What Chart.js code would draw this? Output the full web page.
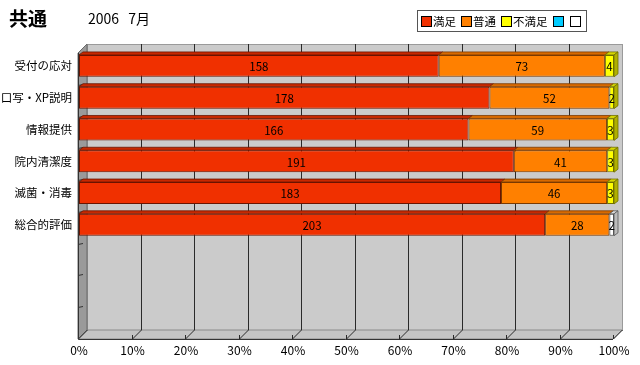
<!DOCTYPE html>
<html>
<head>
<meta charset="utf-8">
<script src="https://cdn.jsdelivr.net/npm/chart.js@4"></script>
<style>
  html, body { margin: 0; padding: 0; background: #ffffff; }
  #wrap { position: relative; width: 640px; height: 365px; font-family: "Noto Sans CJK JP", "Noto Sans", sans-serif; }
  #title { position: absolute; left: 9px; top: 4px; font-size: 19px; font-weight: bold; color: #000; }
  #sub { position: absolute; left: 88px; top: 8px; font-size: 14px; color: #000; word-spacing: 6px; }
  #legend { position: absolute; left: 417px; top: 10px; height: 20px; border: 1px solid #555; background: #fff; display: flex; align-items: center; padding: 0 4px 0 3px; white-space: nowrap; }
  .li { display: flex; align-items: center; margin-right: 5px; font-size: 11.5px; color: #000; white-space: nowrap; flex-shrink: 0; }
  .li:last-child { margin-right: 0; }
  .sw { width: 9px; height: 9px; border: 1px solid #000; margin-right: 1px; flex-shrink: 0; }
  canvas { position: absolute; left: 0; top: 0; }
</style>
</head>
<body>
<div id="wrap">
  <canvas id="c" width="640" height="365"></canvas>
  <div id="title">共通</div>
  <div id="sub">2006 7月</div>
  <div id="legend"></div>
</div>
<script>
// ---- data ----
const categories = ['受付の応対', '口写・XP説明', '情報提供', '院内清潔度', '滅菌・消毒', '総合的評価', '', '', ''];
const seriesNames = ['満足', '普通', '不満足', '', ''];
const satisfied = [158, 178, 166, 191, 183, 203];
const normal = [73, 52, 59, 41, 46, 28];
const dissatisfied = [4, 2, 3, 3, 3, 0];
const cyanSeries = [0, 0, 0, 0, 0, 0];
const whiteSeries = [0, 0, 0, 0, 0, 2];
const xTickValues = [0, 10, 20, 30, 40, 50, 60, 70, 80, 90, 100];

// ---- styles ----
const fills = ['#f03000', '#ff8000', '#ffff00', '#00ccff', '#ffffff'];
const tops = ['#c82800', '#d86a00', '#d8d800', '#00a0cc', '#dddddd'];
const sides = ['#a02000', '#b05500', '#b0b000', '#0080a0', '#bbbbbb'];
const borders = ['#6a1400', '#7a3a00', '#707000', '#005070', '#555555'];

const counts = [satisfied, normal, dissatisfied, cyanSeries, whiteSeries];
const totals = satisfied.map((_, i) => counts.reduce((s, arr) => s + arr[i], 0));

const datasets = counts.map((arr, si) => ({
  label: seriesNames[si],
  data: categories.map((_, i) => (i < arr.length && arr[i] > 0) ? arr[i] / totals[i] * 100 : null),
  rawCounts: arr,
  backgroundColor: fills[si],
  borderColor: borders[si],
  borderWidth: 1,
  borderSkipped: false,
  barPercentage: 0.69,
  categoryPercentage: 1.0
}));

// legend
const lg = document.getElementById('legend');
seriesNames.forEach((n, i) => {
  const d = document.createElement('div'); d.className = 'li';
  const s = document.createElement('div'); s.className = 'sw'; s.style.background = fills[i];
  d.appendChild(s);
  if (n) { const t = document.createElement('span'); t.textContent = n; d.appendChild(t); }
  lg.appendChild(d);
});

const DX = 9, DY = 9;   // wall depth
const BX = 4, BY = 3;   // bar depth

const wallPlugin = {
  id: 'wall3d',
  beforeDatasetsDraw(chart) {
    const ctx = chart.ctx, ca = chart.chartArea, xs = chart.scales.x;
    const fl = ca.left - 1, ft = ca.top + 3, fr = ca.right - 1, fb = ca.bottom + 3;
    ctx.save();
    ctx.fillStyle = '#cbcbcb';
    ctx.fillRect(fl + DX, ft - DY, fr - fl, fb - ft);
    ctx.strokeStyle = '#9a9a9a'; ctx.lineWidth = 1;
    ctx.strokeRect(fl + DX + 0.5, ft - DY + 0.5, fr - fl, fb - ft);
    ctx.beginPath();
    ctx.moveTo(fl, fb); ctx.lineTo(fl + DX, fb - DY); ctx.lineTo(fr + DX, fb - DY); ctx.lineTo(fr, fb); ctx.closePath();
    ctx.fillStyle = '#c4c4c4'; ctx.fill();
    ctx.strokeStyle = '#8a8a8a'; ctx.stroke();
    ctx.beginPath();
    ctx.moveTo(fl, ft); ctx.lineTo(fl + DX, ft - DY); ctx.lineTo(fl + DX, fb - DY); ctx.lineTo(fl, fb); ctx.closePath();
    ctx.fillStyle = '#9a9a9a'; ctx.fill();
    ctx.strokeStyle = '#6a6a6a'; ctx.stroke();
    ctx.strokeStyle = '#2a2a2a'; ctx.lineWidth = 1;
    xTickValues.forEach(v => {
      const x = Math.round(xs.getPixelForValue(v) - 1) + 0.5;
      if (v > 0 && v < 100) {
        ctx.beginPath(); ctx.moveTo(x + DX, ft - DY); ctx.lineTo(x + DX, fb - DY); ctx.stroke();
      }
      ctx.beginPath(); ctx.moveTo(x, fb); ctx.lineTo(x + DX, fb - DY); ctx.stroke();
      ctx.beginPath(); ctx.moveTo(x, fb); ctx.lineTo(x, fb - 4); ctx.stroke();
    });
    ctx.strokeStyle = '#333';
    ctx.beginPath(); ctx.moveTo(fl + 0.5, ft); ctx.lineTo(fl + 0.5, fb + 0.5); ctx.lineTo(fr, fb + 0.5); ctx.stroke();
    const n = categories.length;
    for (let k = 1; k < n; k++) {
      const y = Math.round(ft + k * (fb - ft) / n) + 0.5;
      ctx.beginPath(); ctx.moveTo(fl, y); ctx.lineTo(fl + 5, y - 1); ctx.stroke();
    }
    ctx.restore();
  },
  afterDatasetsDraw(chart) {
    const ctx = chart.ctx;
    ctx.save();
    const n = categories.length;
    const lastSeg = new Array(n).fill(null);
    chart.data.datasets.forEach((ds, di) => {
      const meta = chart.getDatasetMeta(di);
      meta.data.forEach((el, i) => {
        if (ds.data[i] == null) return;
        const x0 = el.base, x1 = el.x, top = el.y - el.height / 2;
        ctx.beginPath();
        ctx.moveTo(x0, top); ctx.lineTo(x0 + BX, top - BY); ctx.lineTo(x1 + BX, top - BY); ctx.lineTo(x1, top); ctx.closePath();
        ctx.fillStyle = tops[di]; ctx.fill();
        ctx.strokeStyle = borders[di]; ctx.lineWidth = 0.8; ctx.stroke();
        lastSeg[i] = { el, di };
      });
    });
    lastSeg.forEach(s => {
      if (!s) return;
      const el = s.el, x1 = el.x, top = el.y - el.height / 2, bot = el.y + el.height / 2;
      ctx.beginPath();
      ctx.moveTo(x1, top); ctx.lineTo(x1 + BX, top - BY); ctx.lineTo(x1 + BX, bot - BY); ctx.lineTo(x1, bot); ctx.closePath();
      ctx.fillStyle = sides[s.di]; ctx.fill();
      ctx.strokeStyle = borders[s.di]; ctx.lineWidth = 0.8; ctx.stroke();
    });
    ctx.fillStyle = '#000';
    ctx.font = '11.5px "Noto Sans CJK JP", sans-serif';
    ctx.textAlign = 'center'; ctx.textBaseline = 'middle';
    chart.data.datasets.forEach((ds, di) => {
      const meta = chart.getDatasetMeta(di);
      meta.data.forEach((el, i) => {
        if (ds.data[i] == null) return;
        ctx.fillText(String(ds.rawCounts[i]), (el.x + el.base) / 2, el.y + 1);
      });
    });
    ctx.restore();
  }
};

new Chart(document.getElementById('c'), {
  type: 'bar',
  data: { labels: categories, datasets },
  options: {
    indexAxis: 'y',
    responsive: false,
    animation: false,
    layout: { padding: { top: 50, right: 26, left: 0, bottom: 0 } },
    plugins: { legend: { display: false }, tooltip: { enabled: false }, title: { display: false } },
    scales: {
      x: {
        stacked: true, min: 0, max: 100,
        afterBuildTicks(scale) { scale.ticks = xTickValues.map(v => ({ value: v })); },
        ticks: { callback: v => v + '%', color: '#000', font: { size: 12, family: '"Noto Sans CJK JP", sans-serif' }, padding: 7, maxRotation: 0, autoSkip: false },
        grid: { display: false, drawTicks: false },
        border: { display: false },
        afterFit(scale) { scale.height = 29; }
      },
      y: {
        stacked: true,
        ticks: { color: '#000', font: { size: 11.5, family: '"Noto Sans CJK JP", sans-serif' }, padding: 7, autoSkip: false },
        grid: { display: false, drawTicks: false },
        border: { display: false },
        afterFit(scale) { scale.width = 79; }
      }
    }
  },
  plugins: [wallPlugin]
});
</script>
</body>
</html>
